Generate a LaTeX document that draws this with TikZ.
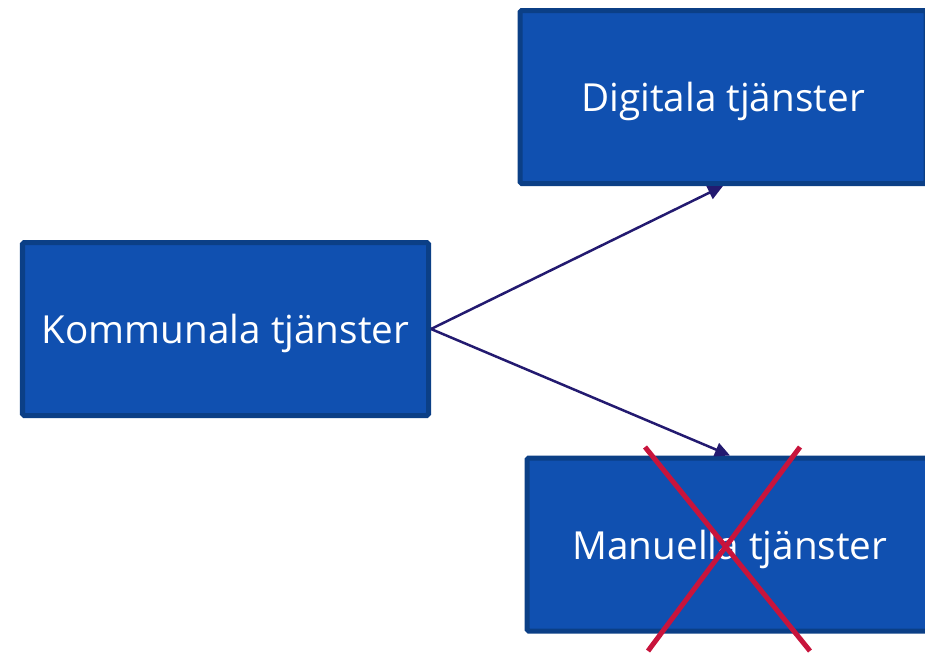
\documentclass[tikz,border=0pt]{standalone}
\usepackage{fontspec}
\setmainfont{Open Sans}
\usepackage{xcolor}
\usetikzlibrary{positioning, arrows.meta}
\definecolor{boxblue}{HTML}{1050B0}
\definecolor{boxedge}{HTML}{0B3F86}
\definecolor{arrowblue}{HTML}{231A70}
\definecolor{crossred}{HTML}{C8143C}
\tikzset{
    service/.style={rectangle, fill=boxblue, draw=boxedge, line width=0.1cm,
        minimum width=8.12cm, minimum height=3.46cm, text=white, text depth=0pt,
        font=\fontsize{22}{26}\selectfont, rounded corners=1pt},
    link/.style={draw=arrowblue, line width=0.05cm, -{Triangle[length=0.3cm, width=0.28cm]}}
}

\begin{document}
\begin{tikzpicture}
    % Canvas: 925 x 655 px, 1 px = 0.02 cm
    \useasboundingbox (0,0) rectangle (18.5,-13.1);

    % Municipal services
    \node[service] (kommunala) at (4.51,-6.58) {Kommunala tjänster};
    % Digital services
    \node[service] (digitala) at (14.46,-1.94) {Digitala tjänster};
    % Manual services
    \node[service] (manuella) at (14.6,-10.89) {Manuella tjänster};

    % Arrows from the municipal services
    \draw[link] (kommunala.east) -- (digitala.south);
    \draw[link] (kommunala.east) -- (manuella.north);

    % Red cross over manual services
    \draw[crossred, line width=0.1cm] (12.9,-8.94) -- (16.2,-13.02);
    \draw[crossred, line width=0.1cm] (16.0,-8.94) -- (12.96,-13.02);
\end{tikzpicture}
\end{document}
